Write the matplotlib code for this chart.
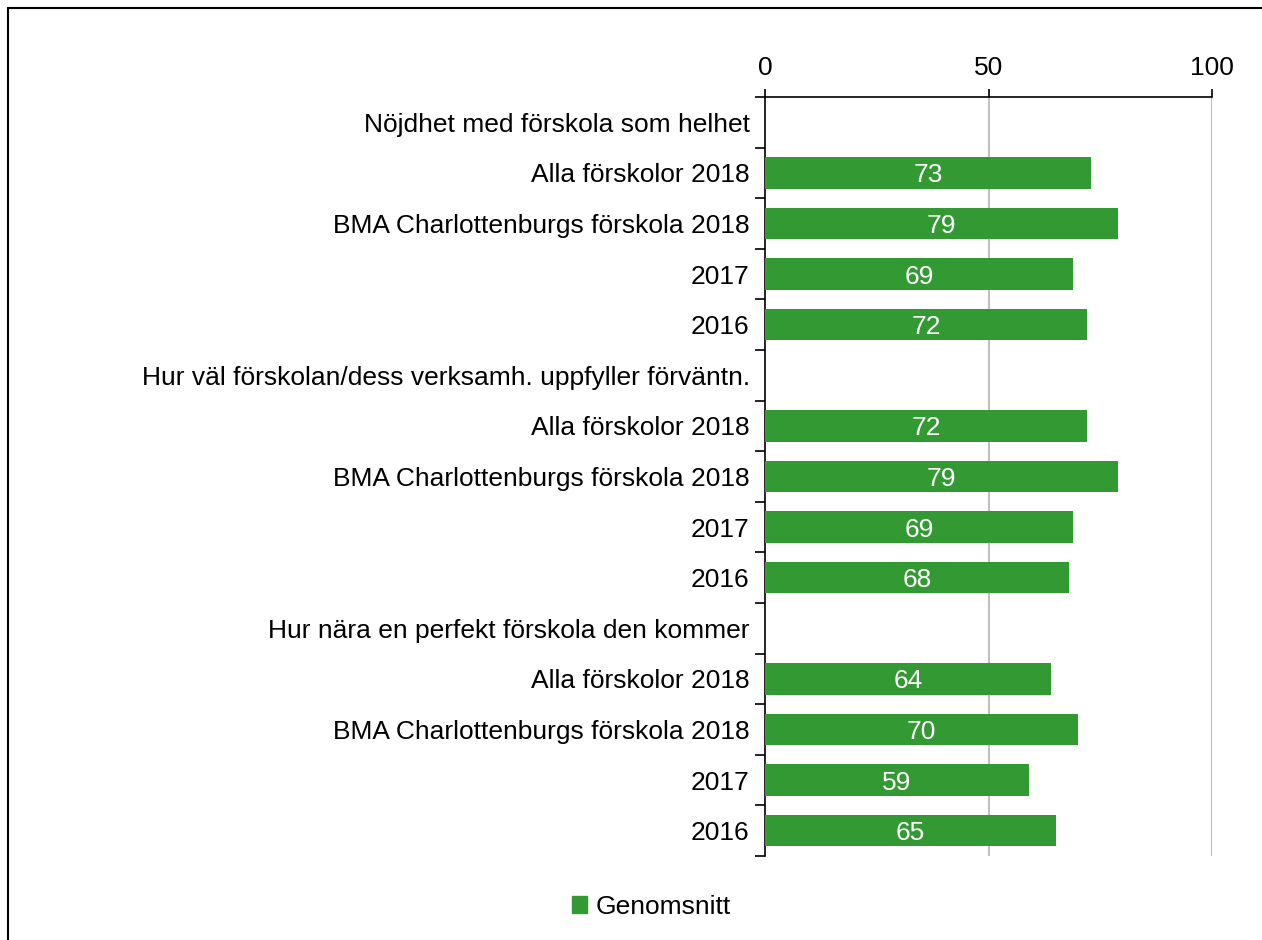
import numpy as np
import matplotlib.pyplot as plt
from matplotlib.patches import Rectangle

# === Data ===
kategorier = [
    "Nöjdhet med förskola som helhet",
    "Alla förskolor 2018",
    "BMA Charlottenburgs förskola 2018",
    "2017",
    "2016",
    "Hur väl förskolan/dess verksamh. uppfyller förväntn.",
    "Alla förskolor 2018",
    "BMA Charlottenburgs förskola 2018",
    "2017",
    "2016",
    "Hur nära en perfekt förskola den kommer",
    "Alla förskolor 2018",
    "BMA Charlottenburgs förskola 2018",
    "2017",
    "2016",
]
genomsnitt = [None, 73, 79, 69, 72, None, 72, 79, 69, 68, None, 64, 70, 59, 65]
x_ticks = [0, 50, 100]

GRON = "#339933"
FS = 19
plt.rcParams["font.family"] = ["Liberation Sans", "DejaVu Sans"]

W, H = 1262, 940
fig = plt.figure(figsize=(W / 100, H / 100), dpi=100)

# ram runt figuren
fig.patches.append(Rectangle((8 / W, -0.1), 1.2, 1 - 8 / H + 0.1, transform=fig.transFigure,
                             fill=False, edgecolor="black", linewidth=1.5))

ax = fig.add_axes([765 / W, 1 - 856 / H, 447 / W, 759 / H])

y = np.arange(len(kategorier))
for yi, v in zip(y, genomsnitt):
    if v is None:
        continue
    ax.barh(yi, v, height=0.62, color=GRON, zorder=3)
    ax.text(v / 2, yi + 0.05, str(v), color="white", ha="center", va="center",
            fontsize=FS, zorder=4)

ax.set_xlim(0, 100)
ax.set_ylim(len(kategorier) - 0.5, -0.5)
ax.set_xticks(x_ticks)
ax.xaxis.tick_top()
ax.tick_params(axis="x", length=6, width=1.2, labelsize=FS, pad=6)
ax.set_yticks(y)
ax.set_yticklabels(kategorier, fontsize=FS)
ax.tick_params(axis="y", length=0, pad=11)
ax.set_yticks(np.arange(len(kategorier) + 1) - 0.5, minor=True)
ax.tick_params(axis="y", which="minor", length=7, width=1.2)

for gx in [50, 100]:
    ax.axvline(gx, color="#bfbfbf", linewidth=1.5, zorder=1)

for s in ["right", "bottom"]:
    ax.spines[s].set_visible(False)
ax.spines["left"].set_linewidth(1.2)
ax.spines["top"].set_linewidth(1.2)

fig.legend(handles=[Rectangle((0, 0), 1, 1, color=GRON)], labels=["Genomsnitt"],
           loc="center", bbox_to_anchor=(651 / W, 1 - 907 / H), frameon=False,
           fontsize=FS, handlelength=0.6, handleheight=0.6, handletextpad=0.3)

fig.savefig("out.png", dpi=100)
